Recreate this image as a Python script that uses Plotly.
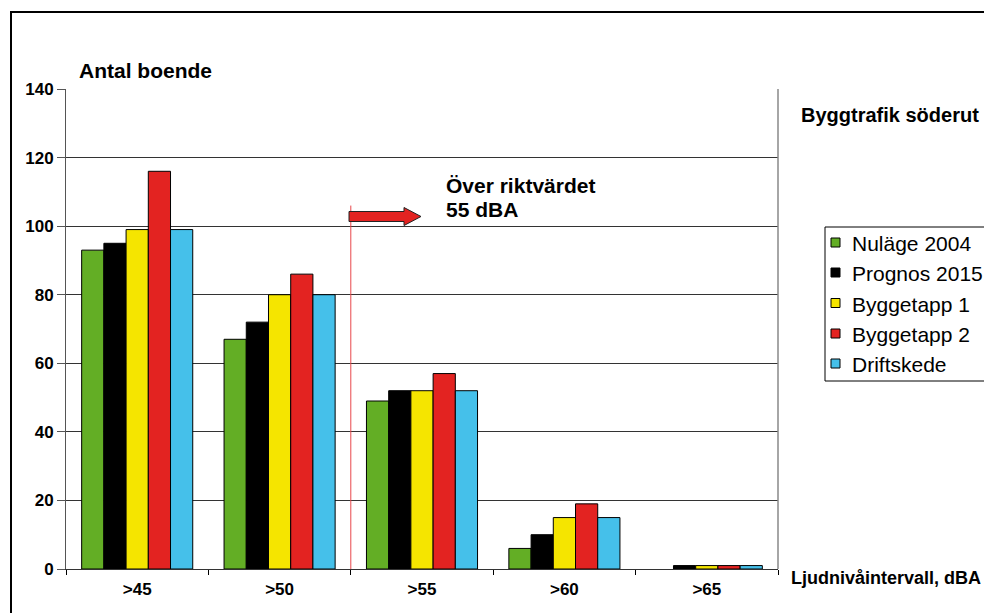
import plotly.graph_objects as go

# Noise intervals (dBA) and number of residents per scenario
categories = [">45", ">50", ">55", ">60", ">65"]
series_names = ["Nuläge 2004", "Prognos 2015", "Byggetapp 1", "Byggetapp 2", "Driftskede"]
nulage_2004 = [93, 67, 49, 6, 0]
prognos_2015 = [95, 72, 52, 10, 1]
byggetapp_1 = [99, 80, 52, 15, 1]
byggetapp_2 = [116, 86, 57, 19, 1]
driftskede = [99, 80, 52, 15, 1]
series_values = [nulage_2004, prognos_2015, byggetapp_1, byggetapp_2, driftskede]
colors = ["#63AE25", "#000000", "#F5E500", "#E32321", "#45C0EA"]
y_ticks = [0, 20, 40, 60, 80, 100, 120, 140]

W, H = 984, 613
L, R, T, B = 66, 206, 89, 44
pw = W - L - R
ph = H - T - B
FONT = "Liberation Sans, Arial, sans-serif"


def px_x(p):
    return (p - L) / pw


def px_y(p):
    return (H - B - p) / ph


fig = go.Figure()
for name, vals, col in zip(series_names, series_values, colors):
    fig.add_trace(go.Bar(
        x=categories, y=vals, name=name, showlegend=False,
        marker=dict(color=col, line=dict(color="#000000",
                                         width=[1 if v > 0 else 0 for v in vals])),
    ))

fig.update_layout(
    width=W, height=H,
    margin=dict(l=L, r=R, t=T, b=B, autoexpand=False),
    paper_bgcolor="white", plot_bgcolor="white",
    barmode="group", bargap=0.22, bargroupgap=0,
    showlegend=False,
    xaxis=dict(
        type="category", tickson="boundaries", ticks="outside", ticklen=5,
        tickcolor="#000000", showline=True, linecolor="#333333", linewidth=1,
        showgrid=False, range=[-0.5, 4.5],
        tickvals=categories, ticktext=[f"<b>{c}</b>" for c in categories],
        ticklabelstandoff=5,
        tickfont=dict(size=17, family=FONT, color="#000000"),
    ),
    yaxis=dict(
        range=[0, 140], tickvals=y_ticks, ticktext=[f"<b>{v}</b>" for v in y_ticks],
        ticks="outside", ticklen=8,
        tickcolor="#555555", showline=True, linecolor="#555555", linewidth=1,
        showgrid=True, gridcolor="#333333", gridwidth=1, zeroline=False,
        tickfont=dict(size=17, family=FONT, color="#000000"),
    ),
)

shapes = [
    # outer chart frame
    dict(type="rect", xref="paper", yref="paper",
         x0=px_x(11), x1=px_x(1100), y0=px_y(700), y1=px_y(12),
         line=dict(color="#000000", width=2), fillcolor="rgba(0,0,0,0)", layer="above"),
    # right border of the plot area
    dict(type="line", xref="paper", yref="paper", x0=1, x1=1, y0=0, y1=1,
         line=dict(color="#888888", width=1.5)),
    # limit marker between >50 and >55
    dict(type="line", xref="x", yref="y", x0=1.5, x1=1.5, y0=0, y1=106,
         line=dict(color="#E8474A", width=1)),
]

# block arrow pointing right
ax0, ax1, ah = px_x(349), px_x(421), px_x(404)
yc = px_y(216.5)
bt, bb = px_y(211.5), px_y(221.5)
ht, hb = px_y(207.5), px_y(225.5)
shapes.append(dict(
    type="path", xref="paper", yref="paper",
    path=f"M {ax0} {bt} L {ah} {bt} L {ah} {ht} L {ax1} {yc} L {ah} {hb} L {ah} {bb} L {ax0} {bb} Z",
    fillcolor="#E32321", line=dict(color="#222222", width=1),
))

# legend box with one swatch + label per series
shapes.append(dict(
    type="rect", xref="paper", yref="paper",
    x0=px_x(825), x1=px_x(1100), y0=px_y(381), y1=px_y(227),
    line=dict(color="#000000", width=1), fillcolor="white",
))
legend_rows = [242.5, 272.5, 303, 333.5, 363.5]
annots = []
for name, col, yy in zip(series_names, colors, legend_rows):
    shapes.append(dict(
        type="rect", xref="paper", yref="paper",
        x0=px_x(831), x1=px_x(840), y0=px_y(yy + 4.5), y1=px_y(yy - 4.5),
        line=dict(color="#000000", width=1), fillcolor=col,
    ))
    annots.append(dict(text=name, x=px_x(850), y=px_y(yy + 1), size=21))
fig.update_layout(shapes=shapes)

annots += [
    dict(text="<b>Antal boende</b>", x=px_x(77), y=px_y(70), size=21),
    dict(text="<b>Byggtrafik söderut</b>", x=px_x(799), y=px_y(115), size=20),
    dict(text="<b>Över riktvärdet</b>", x=px_x(444), y=px_y(186), size=21),
    dict(text="<b>55 dBA</b>", x=px_x(444), y=px_y(209), size=21),
    dict(text="<b>Ljudnivåintervall, dBA</b>", x=px_x(789), y=px_y(578), size=18),
]
for a in annots:
    fig.add_annotation(
        text=a["text"], x=a["x"], y=a["y"], xref="paper", yref="paper",
        xanchor="left", yanchor="middle", showarrow=False,
        font=dict(family=FONT, size=a["size"], color="#000000"),
    )

fig.write_html("out.html")
